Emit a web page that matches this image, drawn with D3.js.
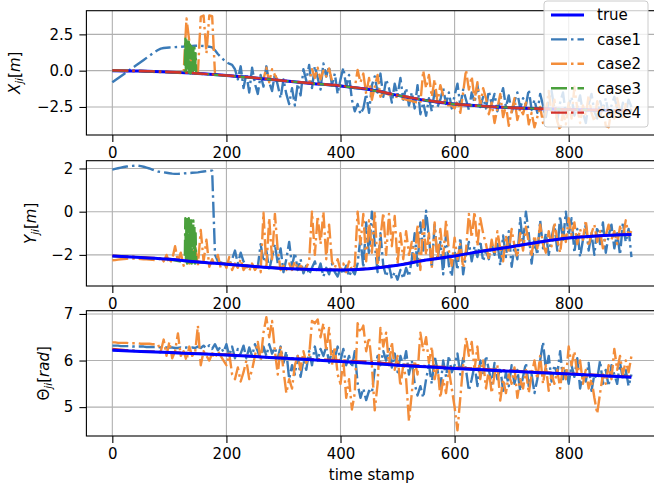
<!DOCTYPE html>
<html><head><meta charset="utf-8">
<script src="https://cdn.jsdelivr.net/npm/d3@7"></script>
<style>body{margin:0;background:#fff}text{font-family:"DejaVu Sans",sans-serif;fill:#000}</style>
</head><body><svg id="c" width="654" height="489"></svg>
<script>
// ---------------- DATA ----------------
const seriesNames = ["true", "case1", "case2", "case3", "case4"];
const xTickValues = [0, 200, 400, 600, 800];
const yTicksX = [-2.5, 0, 2.5];
const yTicksY = [-2, 0, 2];
const yTicksT = [5, 6, 7];

// time stamps of the noisy estimates (every 5th frame)
const frames = d3.range(0, 911, 5);
// time stamps of the smooth trajectories
const keyFrames = [0, 50, 100, 150, 200, 250, 300, 350, 400, 450, 500, 550, 600, 650, 700, 750, 800, 850, 910];
// time stamps of the case3 burst
const spikeFrames = [127,128,129,130,131,132,133,134,135,136,137,138,139,140,141,142,143,144,145,146,147];

// ----- X_ji -----
const trueX = [0.0, -0.03, -0.10, -0.20, -0.34, -0.50, -0.70, -0.88, -1.05, -1.30, -1.70, -2.05, -2.30, -2.45, -2.55, -2.62, -2.68, -2.72, -2.75];
const case4X = [0.02, -0.02, -0.09, -0.19, -0.33, -0.49, -0.69, -0.87, -1.04, -1.29, -1.68, -2.03, -2.29, -2.44, -2.55, -2.62, -2.67, -2.71, -2.74];
const case3XKey = [0.01, -0.02, -0.10, -0.20, -0.34, -0.50, -0.70, -0.88, -1.05, -1.30, -1.70, -2.05, -2.30, -2.45, -2.55, -2.62, -2.68, -2.72, -2.75];
const case3XSpike = [-0.15, 2.2, -0.1, 2.1, -0.2, 1.9, 0.0, 2.0, -0.15, 1.8, -0.2, 1.7, 0.1, 1.6, -0.18, 1.5, -0.1, 1.6, -0.2, 1.2, -0.2];
const case1X = [
 -0.80, -0.66, -0.52, -0.38, -0.24, -0.10, 0.04, 0.18, 0.32, 0.46, 0.60, 0.74, 0.88, 1.02, 1.16, 1.30, 1.42, 1.52, 1.56, 1.58,
 1.60, 1.61, 1.62, 1.63, 1.65, 1.66, 1.68, 1.70, 1.71, 1.72, 1.72, 1.71, 1.70, 1.68, 1.65, 1.60, 1.40, 1.15, 0.95, 0.75,
 0.58, 0.48, 0.40, 0.1, -0.6, 0.3, -1.2, -0.2, -1.5, 0.2, -0.9, -1.6, -0.3, -1.1, 0.3, -0.8, -1.4, -0.2, -1.0, -1.9,
 -0.6, -1.6, -2.3, -1.2, -2.4, -0.9, -1.7, 0.1, -0.7, 0.4, -1.2, 0.3, -0.5, -1.3, 0.5, -0.4, 0.3, -1.0, -0.2, -1.6,
 -0.6, 0.2, -1.1, -0.3, -2.0, -2.8, -2.3, -3.0, -2.6, -1.6, -2.9, -1.0, -0.4, -1.5, -0.2, -1.8, -0.6, -1.2, -2.2, -0.9,
 -1.7, -0.5, -2.0, -1.2, -2.4, -1.5, -2.6, -1.0, -3.0, -2.2, -3.1, -1.9, -2.8, -1.4, -2.5, -2.0, -1.2, -2.3, -1.5, -2.6,
 -1.7, -0.9, -2.4, -1.3, -2.0, -2.7, -1.5, -2.2, -1.0, -2.5, -1.8, -2.6, -1.4, -2.3, -1.6, -2.8, -2.0, -1.2, -2.5, -1.7,
 -2.9, -2.1, -1.5, -2.6, -1.9, -2.4, -1.3, -2.7, -2.0, -2.9, -1.6, -2.4, -3.2, -2.0, -1.4, -2.6, -3.4, -2.2, -1.5, -3.0,
 -2.4, -1.8, -3.1, -2.5, -1.7, -2.9, -3.6, -2.3, -1.6, -2.8, -3.3, -2.1, -2.7, -1.9, -3.0, -2.4, -1.8, -2.6, -3.2, -2.2,
 -2.8, -2.0, -2.5];
const case2X = [
 0.00, -0.01, -0.01, -0.02, -0.02, -0.03, -0.03, -0.04, -0.04, -0.05, -0.05, -0.06, -0.07, -0.07, -0.08, -0.09, -0.10, -0.10, -0.11, -0.12,
 -0.13, -0.14, -0.15, -0.15, -0.16, -0.17, 3.6, 2.0, -0.18, -0.19, -0.2, 3.7, 3.8, 1.2, 3.8, 3.75, -0.25, -0.27, -0.29, -0.31,
 -0.33, -0.35, -0.37, -0.39, -0.41, -0.43, -0.45, -0.47, -0.49, -0.50, -0.52, -0.54, -0.56, -0.58, 0.2, -0.8, 0.1, -0.3, -0.65, -0.67,
 -0.70, -0.72, -0.74, -0.76, -0.78, -0.80, -0.82, -0.84, -0.86, -0.88, 0.1, -0.5, 0.2, -0.6, 0.0, -0.4, 0.15, -0.7, -0.98, -1.0,
 -1.03, -1.06, -1.10, -1.13, -1.16, -1.20, 0.05, -0.8, -0.2, -1.6, -0.5, -2.0, -1.1, -0.3, -1.8, -1.5, -1.58, -1.64, -1.70, -1.76,
 -1.82, -1.88, -1.94, -2.00, -2.05, -2.10, -2.15, -2.20, -2.24, 0.0, -1.2, -0.3, -1.8, -0.6, -2.2, -1.0, -1.7, -2.36, -2.38, -2.40,
 -2.6, -2.1, -2.9, -1.5, 0.05, -1.3, -0.4, -2.0, -0.8, -2.4, -1.2, -1.9, -3.0, -2.2, -3.6, -2.6, -1.6, -3.2, -2.4, -3.8,
 -2.8, -1.9, -3.4, -2.6, -3.0, -2.2, -3.7, -2.9, -3.9, -3.2, -2.5, -3.6, -2.8, -1.4, -3.0, -2.0, -3.5, -4.1, -2.9, -3.7,
 -2.2, -3.3, -1.1, -2.6, -3.6, -2.4, -3.1, -1.7, -2.9, -3.5, -2.1, -3.2, -2.5, -3.8, -3.9, -2.7, -3.3, -1.9, -2.8, -3.4,
 -2.3, -3.0, -2.6];

// ----- Y_ji -----
const trueY = [-2.05, -2.12, -2.20, -2.33, -2.43, -2.54, -2.63, -2.68, -2.70, -2.64, -2.48, -2.24, -2.05, -1.82, -1.62, -1.40, -1.22, -1.12, -1.06];
const case4Y = [-2.04, -2.11, -2.19, -2.32, -2.42, -2.53, -2.62, -2.67, -2.69, -2.63, -2.47, -2.23, -2.04, -1.81, -1.61, -1.39, -1.21, -1.11, -1.05];
const case3YKey = [-2.05, -2.12, -2.20, -2.33, -2.43, -2.54, -2.63, -2.68, -2.70, -2.64, -2.48, -2.24, -2.05, -1.82, -1.62, -1.40, -1.22, -1.12, -1.06];
const case3YSpike = [-2.35, -0.3, -2.3, -0.25, -2.4, -0.4, -2.3, -0.3, -2.4, -0.5, -2.3, -0.35, -2.4, -0.6, -2.35, -0.4, -2.3, -0.7, -2.4, -1.0, -2.35];
const case1Y = [
 1.95, 1.98, 2.01, 2.04, 2.07, 2.09, 2.11, 2.12, 2.13, 2.13, 2.11, 2.08, 2.04, 2.00, 1.95, 1.90, 1.86, 1.84, 1.82, 1.80,
 1.78, 1.76, 1.75, 1.75, 1.76, 1.77, 1.78, 1.79, 1.80, 1.81, 1.82, 1.84, 1.86, 1.88, 1.90, 1.90, -2.0, -2.3, -2.35, -2.4,
 -2.42, -2.44, -2.2, -1.8, -2.4, -1.9, -2.3, -2.5, -2.52, -2.5, -2.53, -2.55, -1.5, -2.3, -1.8, -2.7, -2.1, -1.5, -2.4, -1.7,
 -2.8, -2.2, -1.4, -2.5, -1.9, -2.7, -2.2, -2.85, -2.5, -2.9, -2.6, -2.3, -2.8, -2.4, -3.0, -2.6, -2.9, -2.4, -2.8, -3.0,
 -2.6, -2.9, -2.5, -3.0, -2.7, -2.9, -2.4, -1.2, -2.6, -0.5, -2.0, 0.0, -1.5, -2.8, -1.0, -2.5, -3.0, -2.5, -3.1, -2.8,
 -3.15, -2.7, -3.1, -2.6, -3.0, -2.2, -1.0, -2.5, -0.5, -1.8, 0.05, -1.2, -2.6, -0.6, -2.2, -1.4, -2.9, -1.0, -2.5, -3.0,
 -1.8, -2.7, -1.2, -2.9, -2.0, -1.4, -2.3, -1.6, -2.1, -1.35, -2.3, -1.8, -2.2, -1.5, -2.0, -1.4, -2.5, -1.1, -2.1, -0.9,
 -2.55, -1.6, -2.2, -0.3, -1.5, 0.0, -1.0, -2.4, -1.3, -2.0, -0.4, -1.7, -1.0, -2.0, -1.2, -0.6, -1.8, -0.2, -1.4, 0.0,
 -1.1, -0.3, -1.9, -0.8, -2.1, -1.3, -0.6, -1.8, -1.0, -2.0, -0.7, -1.5, -0.5, -1.9, -1.1, -0.6, -1.7, -1.0, -2.0, -0.5,
 -1.4, -0.8, -2.1];
const case2Y = [
 -2.25, -2.24, -2.22, -2.20, -2.19, -2.18, -2.17, -2.17, -2.17, -2.18, -2.19, -2.20, -2.21, -2.22, -2.23, -2.24, -2.25, -2.1, -2.3, -2.0,
 -2.4, -2.2, -1.6, -2.3, -1.9, -2.5, -2.2, -2.4, -2.3, -1.6, -2.5, -0.85, -2.3, -1.3, -2.55, -2.2, -2.5, -2.0, -2.6, -2.3,
 -2.6, -2.1, -2.7, -2.4, -2.6, -2.2, -2.7, -2.5, -2.75, -2.4, -2.7, -2.5, -2.8, -0.05, -2.6, -0.3, -2.2, -0.1, -1.8, -2.7,
 -2.5, -2.7, -2.4, -2.7, -2.3, -2.65, -2.5, -2.7, -2.6, -2.3, 0.0, -2.0, -0.2, -1.5, 0.0, -2.2, -0.6, -2.3, -2.6, -2.2,
 -2.7, -2.4, -2.8, -2.3, -2.7, -2.5, 0.0, -1.5, -0.1, -2.3, -0.4, -1.9, 0.0, -2.5, -1.2, -0.05, -2.0, -0.1, -1.6, -0.2,
 -2.4, -1.0, -2.2, -0.9, -2.0, -1.4, -2.3, -0.6, -2.7, -0.4, -2.0, -1.0, -2.6, -0.5, -2.3, -0.8, -2.1, -0.4, -1.8, -2.5,
 -1.2, -2.2, -1.5, -2.6, -1.8, -0.1, -1.2, 0.0, -1.6, -0.3, -1.0, -1.5, -2.2, -1.3, -2.0, -0.9, -1.7, -2.3, -1.1, -1.9,
 -0.8, -1.6, -2.1, -1.0, -1.8, -0.7, -1.4, -2.0, -1.1, -1.7, -0.6, -1.5, -1.9, -0.9, -1.6, -0.5, -1.3, -1.9, -0.8, -1.4,
 -0.3, -1.1, -0.5, -1.5, -0.8, -1.3, -0.4, -1.6, -1.0, -0.6, -1.4, -0.9, -1.7, -1.1, -0.6, -1.3, -0.9, -1.5, -0.7, -1.2,
 -0.4, -1.1, -0.9];

// ----- Theta_ji -----
const trueT = [6.22, 6.195, 6.17, 6.145, 6.12, 6.085, 6.05, 6.015, 5.98, 5.94, 5.90, 5.865, 5.83, 5.80, 5.77, 5.74, 5.71, 5.68, 5.64];
const case4T = [6.25, 6.20, 6.18, 6.15, 6.13, 6.09, 6.06, 6.03, 6.00, 5.97, 5.92, 5.88, 5.85, 5.82, 5.78, 5.75, 5.72, 5.69, 5.65];
const case3T = [6.23, 6.20, 6.17, 6.145, 6.12, 6.085, 6.05, 6.015, 5.98, 5.94, 5.90, 5.865, 5.83, 5.80, 5.77, 5.74, 5.71, 5.68, 5.64];
const case1T = [
 6.32, 6.32, 6.32, 6.31, 6.31, 6.31, 6.31, 6.30, 6.30, 6.30, 6.30, 6.30, 6.29, 6.29, 6.29, 6.29, 6.29, 6.28, 6.28, 6.28,
 6.28, 6.28, 6.27, 6.27, 6.28, 6.27, 6.28, 6.27, 6.28, 6.27, 6.30, 6.27, 6.32, 6.26, 6.33, 6.25, 6.35, 6.22, 6.30, 6.18,
 6.35, 6.10, 6.30, 6.05, 6.25, 6.15, 6.32, 6.05, 6.28, 6.10, 6.35, 6.20, 6.00, 6.30, 6.10, 6.35, 6.15, 6.28, 6.05, 6.30,
 5.95, 6.20, 5.60, 5.90, 5.70, 6.10, 5.65, 6.00, 5.80, 6.20, 5.90, 6.30, 6.00, 6.25, 6.10, 6.30, 5.95, 6.20, 6.05, 6.30,
 6.00, 6.25, 5.90, 6.10, 5.85, 6.20, 5.50, 5.20, 5.40, 5.15, 5.35, 5.30, 5.80, 6.10, 5.90, 6.20, 6.00, 6.25, 5.85, 6.15,
 5.75, 6.10, 5.90, 6.20, 5.70, 6.00, 5.50, 5.25, 5.45, 5.20, 5.60, 5.90, 5.50, 6.10, 5.80, 5.40, 6.00, 5.65, 6.10, 5.75,
 5.90, 6.15, 5.70, 6.05, 5.80, 5.35, 5.60, 5.90, 5.45, 6.00, 5.70, 6.10, 5.80, 5.50, 5.95, 5.60, 5.85, 5.35, 5.75, 5.45,
 5.90, 5.50, 5.80, 5.35, 5.65, 5.95, 5.45, 5.70, 5.30, 5.60, 6.00, 6.40, 5.80, 6.10, 5.55, 5.90, 5.70, 6.20, 5.60, 5.85,
 5.50, 5.90, 5.65, 6.05, 5.40, 5.75, 5.55, 5.95, 5.35, 5.70, 5.60, 6.00, 5.50, 5.80, 5.45, 5.90, 5.70, 5.50, 5.95, 5.60,
 5.80, 5.45, 5.70];
const case2T = [
 6.39, 6.39, 6.38, 6.38, 6.38, 6.38, 6.37, 6.37, 6.37, 6.37, 6.36, 6.36, 6.36, 6.36, 6.35, 6.35, 6.35, 6.20, 6.45, 6.10,
 6.40, 6.05, 6.20, 6.58, 6.10, 6.20, 6.00, 6.30, 6.10, 6.15, 6.75, 5.90, 6.20, 6.10, 6.00, 6.15, 6.05, 6.20, 6.10, 6.00,
 5.90, 6.15, 5.70, 5.60, 5.85, 5.55, 5.75, 6.00, 5.60, 5.80, 6.10, 6.40, 6.00, 6.60, 6.93, 6.50, 6.85, 6.20, 5.70, 6.30,
 5.80, 5.30, 5.60, 5.40, 5.90, 6.10, 5.80, 6.20, 5.95, 6.10, 6.85, 6.80, 6.88, 6.50, 6.80, 6.20, 6.70, 5.90, 6.30, 5.70,
 5.50, 6.00, 5.20, 5.60, 4.95, 5.30, 6.80, 6.60, 6.75, 6.20, 6.50, 5.90, 4.93, 5.50, 6.70, 6.30, 6.60, 5.90, 6.40, 5.80,
 6.10, 5.45, 5.90, 5.60, 4.70, 5.30, 6.00, 5.70, 6.60, 6.20, 6.50, 5.95, 6.30, 5.60, 5.90, 5.20, 5.60, 5.30, 5.80, 5.40,
 5.00, 4.50, 5.20, 5.90, 6.50, 6.10, 6.40, 5.80, 6.30, 5.60, 6.00, 5.40, 5.80, 5.30, 5.70, 5.90, 5.14, 5.60, 5.30, 5.70,
 5.50, 5.85, 5.20, 5.60, 5.40, 5.80, 5.30, 5.70, 6.00, 5.60, 6.10, 5.50, 5.90, 5.35, 5.70, 5.50, 5.80, 5.40, 5.90, 5.60,
 6.30, 5.90, 6.20, 5.70, 6.00, 5.50, 5.80, 5.40, 5.60, 5.20, 4.86, 5.30, 5.70, 5.50, 5.90, 5.60, 6.25, 5.80, 6.10, 5.70,
 6.00, 5.75, 6.10];

// ---------------- STYLE ----------------
const colors = {"true": "#0000ff", case1: "#3b7bb8", case2: "#f38d3a", case3: "#4aa03c", case4: "#d3312b"};
const dashDot = "16,4,2.5,4";

// ---------------- DRAW ----------------
const svg = d3.select("#c");
svg.append("rect").attr("width", 654).attr("height", 489).attr("fill", "#fff");
const X0 = 86.4, X1 = 656.8;
const x = d3.scaleLinear().domain([-45.45, 954.45]).range([X0, X1]);

function pairs(ts, vs) { const n = Math.min(ts.length, vs.length); const out = []; for (let i = 0; i < n; i++) out.push([ts[i], vs[i]]); return out; }
function withSpike(keyVals, spikeVals) {
  const a = pairs(keyFrames, keyVals).filter(d => d[0] < spikeFrames[0]);
  const b = pairs(spikeFrames, spikeVals);
  const c = pairs(keyFrames, keyVals).filter(d => d[0] > spikeFrames[spikeFrames.length - 1]);
  return a.concat(b, c);
}

const panels = [
  {top: 10.7, bottom: 135, domain: [-4.43, 4.13], ticks: yTicksX, fmt: d3.format(".1f"), labelX: 14, main: "X", mainItalic: true, unit: "m",
   series: [
     {name: "case1", data: pairs(frames, case1X), dash: true},
     {name: "case2", data: pairs(frames, case2X), dash: true},
     {name: "true", data: pairs(keyFrames, trueX), smooth: true},
     {name: "case3", data: withSpike(case3XKey, case3XSpike), dash: true},
     {name: "case4", data: pairs(keyFrames, case4X), dash: true, smooth: true}
   ]},
  {top: 160.7, bottom: 286, domain: [-3.44, 2.36], ticks: yTicksY, fmt: d3.format("d"), labelX: 30, main: "Y", mainItalic: true, unit: "m",
   series: [
     {name: "case1", data: pairs(frames, case1Y), dash: true},
     {name: "case2", data: pairs(frames, case2Y), dash: true},
     {name: "case3", data: withSpike(case3YKey, case3YSpike), dash: true},
     {name: "case4", data: pairs(keyFrames, case4Y), dash: true, smooth: true},
     {name: "true", data: pairs(keyFrames, trueY), smooth: true}
   ]},
  {top: 310.7, bottom: 436, domain: [4.38, 7.07], ticks: yTicksT, fmt: d3.format("d"), labelX: 43, main: "\u0398", mainItalic: false, unit: "rad",
   series: [
     {name: "case1", data: pairs(frames, case1T), dash: true},
     {name: "case2", data: pairs(frames, case2T), dash: true},
     {name: "case3", data: pairs(keyFrames, case3T), dash: true, smooth: true},
     {name: "case4", data: pairs(keyFrames, case4T), dash: true, smooth: true},
     {name: "true", data: pairs(keyFrames, trueT), smooth: true}
   ]}
];

panels.forEach((p, pi) => {
  const y = d3.scaleLinear().domain(p.domain).range([p.bottom, p.top]);
  const g = svg.append("g");
  const clipId = "clip" + pi;
  svg.append("clipPath").attr("id", clipId).append("rect")
    .attr("x", X0).attr("y", p.top).attr("width", X1 - X0).attr("height", p.bottom - p.top);
  // grid
  g.append("g").selectAll("line").data(xTickValues).join("line")
    .attr("x1", d => x(d)).attr("x2", d => x(d)).attr("y1", p.top).attr("y2", p.bottom)
    .attr("stroke", "#b0b0b0").attr("stroke-width", 1.1);
  g.append("g").selectAll("line").data(p.ticks).join("line")
    .attr("x1", X0).attr("x2", X1).attr("y1", d => y(d)).attr("y2", d => y(d))
    .attr("stroke", "#b0b0b0").attr("stroke-width", 1.1);
  // lines
  const lg = g.append("g").attr("clip-path", `url(#${clipId})`);
  p.series.forEach(s => {
    const line = d3.line().x(d => x(d[0])).y(d => y(d[1])).curve(s.smooth ? d3.curveMonotoneX : d3.curveLinear);
    lg.append("path").datum(s.data).attr("d", line)
      .attr("fill", "none").attr("stroke", colors[s.name])
      .attr("stroke-width", s.name === "true" ? 3 : 2.4)
      .attr("stroke-dasharray", s.dash ? dashDot : null)
      .attr("stroke-linejoin", "round");
  });
  // frame
  g.append("rect").attr("x", X0).attr("y", p.top).attr("width", X1 - X0).attr("height", p.bottom - p.top)
    .attr("fill", "none").attr("stroke", "#000").attr("stroke-width", 1.1);
  // axes
  const ax = g.append("g").attr("transform", `translate(0,${p.bottom})`)
    .call(d3.axisBottom(x).tickValues(xTickValues).tickSize(7).tickPadding(5).tickFormat(d3.format("d")));
  const ay = g.append("g").attr("transform", `translate(${X0},0)`)
    .call(d3.axisLeft(y).tickValues(p.ticks).tickSize(7).tickPadding(6).tickFormat(p.fmt));
  [ax, ay].forEach(a => {
    a.select(".domain").remove();
    a.selectAll("line").attr("stroke", "#000").attr("stroke-width", 1.1);
    a.selectAll("text").attr("font-size", 15).attr("font-family", "DejaVu Sans").attr("fill", "#000");
  });
  // y label
  const cy = (p.top + p.bottom) / 2;
  const t = g.append("text").attr("transform", `translate(${p.labelX + 5.5},${cy}) rotate(-90)`)
    .attr("text-anchor", "middle").attr("font-size", 15);
  t.append("tspan").attr("font-style", p.mainItalic ? "italic" : "normal").text(p.main);
  t.append("tspan").attr("font-style", "italic").attr("font-size", 10.5).attr("dy", 3.5).text("ji");
  t.append("tspan").attr("dy", -3.5).text("[");
  t.append("tspan").attr("font-style", "italic").text(p.unit);
  t.append("tspan").text("]");
});

// x label
svg.append("text").attr("x", (X0 + X1) / 2).attr("y", 480).attr("text-anchor", "middle")
  .attr("font-size", 15).text("time stamp");

// legend
const leg = svg.append("g");
leg.append("rect").attr("x", 544).attr("y", 1).attr("width", 104).attr("height", 126).attr("rx", 3)
  .attr("fill", "#fff").attr("fill-opacity", 0.8).attr("stroke", "#cccccc");
seriesNames.forEach((n, i) => {
  const yy = 15 + i * 24.4;
  leg.append("line").attr("x1", 551).attr("x2", 584).attr("y1", yy).attr("y2", yy)
    .attr("stroke", colors[n]).attr("stroke-width", n === "true" ? 3 : 2.4)
    .attr("stroke-dasharray", n === "true" ? null : dashDot);
  leg.append("text").attr("x", 597).attr("y", yy).attr("dy", "0.36em").attr("font-size", 15).text(n);
});
</script></body></html>
